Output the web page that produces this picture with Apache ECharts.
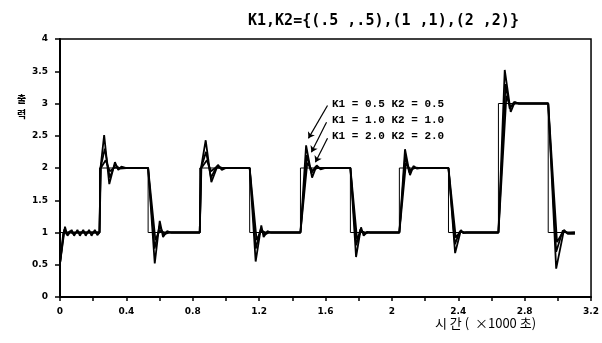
<!DOCTYPE html>
<html>
<head>
<meta charset="utf-8">
<script src="https://cdn.jsdelivr.net/npm/echarts@6/dist/echarts.min.js"></script>
<style>
html, body { margin: 0; padding: 0; background: #fff; }
#chart { width: 602px; height: 343px; }
</style>
</head>
<body>
<div id="chart"></div>
<script>
// 기준 입력 (계단) [시간(x1000 s), 값]
var reference = [[0, 1], [0.238, 1], [0.238, 2], [0.531, 2], [0.531, 1], [0.842, 1], [0.842, 2],
    [1.143, 2], [1.143, 1], [1.449, 1], [1.449, 2], [1.75, 2], [1.75, 1], [2.045, 1], [2.045, 2],
    [2.341, 2], [2.341, 1], [2.642, 1], [2.642, 3], [2.942, 3], [2.942, 1], [3.103, 1]]

// K1 = 0.5, K2 = 0.5
var k05 = [[0, 0.52], [0.03, 1.09], [0.045, 0.95], [0.07, 1.04], [0.085, 0.95], [0.105, 1.04], [0.12, 0.95],
    [0.14, 1.04], [0.155, 0.95], [0.175, 1.04], [0.19, 0.95], [0.21, 1.04], [0.225, 0.96], [0.238, 1.0],
    [0.244, 2.0], [0.266, 2.51], [0.297, 1.75], [0.331, 2.09], [0.351, 1.97], [0.37, 2.02], [0.40, 2.0], [0.531, 2.0],
    [0.571, 0.52], [0.601, 1.18], [0.621, 0.93], [0.645, 1.02], [0.67, 1.0], [0.842, 1.0],
    [0.85, 2.0], [0.878, 2.43], [0.912, 1.78], [0.952, 2.05], [0.975, 1.97], [1.0, 2.0], [1.143, 2.0],
    [1.179, 0.55], [1.213, 1.11], [1.227, 0.93], [1.25, 1.02], [1.27, 1.0], [1.449, 1.0],
    [1.483, 2.35], [1.519, 1.85], [1.547, 2.04], [1.57, 1.98], [1.6, 2.0], [1.75, 2.0],
    [1.784, 0.62], [1.814, 1.08], [1.83, 0.95], [1.85, 1.01], [1.87, 1.0], [2.045, 1.0],
    [2.079, 2.29], [2.109, 1.89], [2.13, 2.03], [2.15, 1.99], [2.17, 2.0], [2.341, 2.0],
    [2.381, 0.68], [2.416, 1.04], [2.43, 0.99], [2.45, 1.0], [2.642, 1.0],
    [2.68, 3.52], [2.716, 2.87], [2.74, 3.02], [2.76, 3.0], [2.942, 3.0],
    [2.99, 0.44], [3.037, 1.04], [3.06, 0.98], [3.103, 0.98]]

// K1 = 1.0, K2 = 1.0
var k10 = [[0, 0.52], [0.025, 1.05], [0.04, 0.97], [0.06, 1.02], [0.08, 0.98], [0.1, 1.0], [0.238, 1.0],
    [0.244, 2.0], [0.27, 2.3], [0.30, 1.85], [0.33, 2.05], [0.36, 1.99], [0.40, 2.0], [0.531, 2.0],
    [0.57, 0.75], [0.60, 1.1], [0.625, 0.97], [0.66, 1.0], [0.842, 1.0],
    [0.85, 2.0], [0.88, 2.25], [0.91, 1.85], [0.945, 2.03], [0.98, 2.0], [1.143, 2.0],
    [1.18, 0.75], [1.21, 1.06], [1.235, 0.97], [1.26, 1.0], [1.449, 1.0],
    [1.487, 2.2], [1.515, 1.92], [1.54, 2.02], [1.57, 2.0], [1.75, 2.0],
    [1.785, 0.8], [1.81, 1.05], [1.835, 0.98], [1.86, 1.0], [2.045, 1.0],
    [2.08, 2.18], [2.105, 1.93], [2.13, 2.01], [2.16, 2.0], [2.341, 2.0],
    [2.38, 0.82], [2.41, 1.02], [2.44, 1.0], [2.642, 1.0],
    [2.685, 3.3], [2.71, 2.92], [2.735, 3.02], [2.77, 3.0], [2.942, 3.0],
    [2.99, 0.7], [3.03, 1.03], [3.06, 0.99], [3.103, 1.0]]

// K1 = 2.0, K2 = 2.0
var k20 = [[0, 0.52], [0.02, 1.0], [0.238, 1.0], [0.246, 2.0], [0.275, 2.12], [0.30, 1.95], [0.33, 2.01], [0.36, 2.0], [0.531, 2.0],
    [0.575, 0.88], [0.60, 1.03], [0.63, 1.0], [0.842, 1.0],
    [0.852, 2.0], [0.885, 2.12], [0.91, 1.95], [0.94, 2.01], [0.97, 2.0], [1.143, 2.0],
    [1.185, 0.88], [1.21, 1.03], [1.24, 1.0], [1.449, 1.0],
    [1.49, 2.08], [1.52, 1.96], [1.55, 2.0], [1.75, 2.0],
    [1.79, 0.9], [1.815, 1.02], [1.84, 1.0], [2.045, 1.0],
    [2.085, 2.08], [2.11, 1.97], [2.14, 2.0], [2.341, 2.0],
    [2.385, 0.92], [2.41, 1.01], [2.44, 1.0], [2.642, 1.0],
    [2.69, 3.12], [2.715, 2.95], [2.74, 3.0], [2.942, 3.0],
    [2.995, 0.85], [3.03, 1.01], [3.06, 1.0], [3.103, 1.0]]

var seriesNames = ['K1 = 0.5 K2 = 0.5', 'K1 = 1.0 K2 = 1.0', 'K1 = 2.0 K2 = 2.0']

// 화살표 (데이터 좌표)
var arrows = [
    [[1.612, 2.97], [1.497, 2.46]],
    [[1.606, 2.71], [1.515, 2.245]],
    [[1.612, 2.46], [1.539, 2.09]]
]

var chart = echarts.init(document.getElementById('chart'))

var tickFont = { fontSize: 9, fontWeight: 'bold', color: '#000', fontFamily: 'DejaVu Sans' }

function curve(name, data) {
    return {
        name: name,
        type: 'line',
        data: data,
        showSymbol: false,
        symbol: 'none',
        lineStyle: { color: '#000', width: 1.8 },
        z: 3
    }
}

var option = {
    animation: false,
    backgroundColor: '#fff',
    title: {
        text: 'K1,K2={(.5 ,.5),(1 ,1),(2 ,2)}',
        left: 243,
        top: 9,
        textStyle: { fontSize: 15, fontWeight: 'bold', color: '#000', fontFamily: 'DejaVu Sans Mono' }
    },
    grid: {
        left: 60, right: 10, top: 39, bottom: 46,
        show: true,
        borderColor: '#000',
        borderWidth: 1.5
    },
    xAxis: {
        type: 'value',
        min: 0, max: 3.2, interval: 0.4,
        axisLine: { lineStyle: { color: '#000', width: 2 } },
        axisTick: { inside: false, length: 4, lineStyle: { color: '#000', width: 1.5 } },
        minorTick: { show: true, splitNumber: 2, length: 4, lineStyle: { color: '#000', width: 1.5 } },
        splitLine: { show: false },
        axisLabel: Object.assign({ margin: 10, showMaxLabel: true,
            formatter: function (v) { return +v.toFixed(1) + '' } }, tickFont)
    },
    yAxis: {
        type: 'value',
        min: 0, max: 4, interval: 0.5,
        axisLine: { show: true, lineStyle: { color: '#000', width: 2 } },
        axisTick: { show: true, length: 5, lineStyle: { color: '#000', width: 1.5 } },
        splitLine: { show: false },
        axisLabel: Object.assign({ margin: 12 }, tickFont)
    },
    graphic: [
        {
            type: 'text', left: 17, top: 92,
            style: { text: '출\n력', fontSize: 10, lineHeight: 15, fontWeight: 'bold', fill: '#000',
                fontFamily: 'Noto Sans CJK KR' }
        },
        {
            type: 'text', left: 435, top: 317,
            style: { text: '시 간 (  ×1000 초)', fontSize: 13, fill: '#000',
                fontFamily: 'Noto Sans CJK KR' }
        },
        {
            type: 'text', left: 332, top: 96,
            style: { text: seriesNames.join('\n'), fontSize: 11, lineHeight: 16, fontWeight: 'bold',
                fill: '#000', fontFamily: 'Liberation Mono' }
        }
    ],
    series: [
        {
            name: 'reference',
            type: 'line',
            data: reference,
            showSymbol: false,
            symbol: 'none',
            lineStyle: { color: '#000', width: 1 },
            z: 2,
            markLine: {
                silent: true,
                symbol: ['none', 'arrow'],
                symbolSize: 6,
                label: { show: false },
                lineStyle: { color: '#000', width: 1.2, type: 'solid' },
                data: arrows.map(function (a) {
                    return [{ coord: a[0] }, { coord: a[1] }]
                })
            }
        },
        curve(seriesNames[0], k05),
        curve(seriesNames[1], k10),
        curve(seriesNames[2], k20)
    ]
}

chart.setOption(option)
</script>
</body>
</html>
